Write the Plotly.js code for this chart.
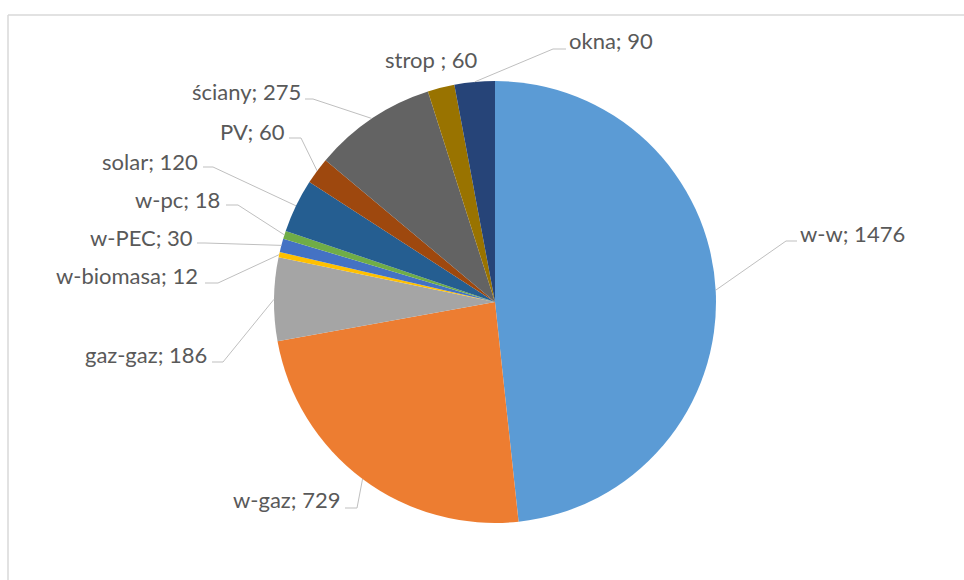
<!DOCTYPE html>
<html>
<head>
<meta charset="utf-8">
<script src="https://cdn.plot.ly/plotly-3.0.1.min.js"></script>
<style>html,body{margin:0;padding:0;background:#fff}#chart{width:964px;height:580px}</style>
</head>
<body>
<div id="chart"></div>
<script>
// ---- data ----
const categories = ["w-w","w-gaz","gaz-gaz","w-biomasa","w-PEC","w-pc","solar","PV","ściany","strop","okna"];
const values = [1476,729,186,12,30,18,120,60,275,60,90];
const labelTexts = ["w-w; 1476","w-gaz; 729","gaz-gaz; 186","w-biomasa; 12","w-PEC; 30","w-pc; 18","solar; 120","PV; 60","ściany; 275","strop ; 60","okna; 90"];

// ---- styles / layout constants (pixels) ----
const colors = ["#5B9BD5","#ED7D31","#A5A5A5","#FFC000","#4472C4","#70AD47","#255E91","#9E480E","#636363","#997300","#264478"];
const W = 964, H = 580;
const CX = 495, CY = 302, R = 221;
// label placement: [anchorX, baselineY, side, elbowX, elbowY, lineEndX] ; side 'l' = text to left of anchor
const labelPlace = [
  [799, 241, "r", 786, 241, 797],
  [341, 508, "l", 357, 508, 345],
  [208, 362, "l", 223, 362, 212],
  [199, 283, "l", 218, 283, 205],
  [194, 245, "l", 205, 243, 197],
  [221, 207, "l", 238, 205, 226],
  [199, 169, "l", 213, 167, 203],
  [286, 139, "l", 301, 138, 289],
  [302, 100, "l", 313, 99, 305],
  [431, 67, "c", null, null, null],
  [568, 48, "r", 553, 49, 566]
];
const FONT = {family: "Lato, 'Open Sans', sans-serif", size: 22, color: "#595959"};
const LINE = {color: "#BFBFBF", width: 1};

const px = x => x / W;
const py = y => 1 - y / H;

const total = values.reduce((a, b) => a + b, 0);
let cum = 0;
const shapes = [];
const annotations = [];
values.forEach((v, i) => {
  const mid = (cum + v / 2) / total;
  cum += v;
  const th = 2 * Math.PI * mid;
  const ex = CX + R * Math.sin(th), ey = CY - R * Math.cos(th);
  const p = labelPlace[i];
  if (p[3] !== null) {
    shapes.push({
      type: "path", xref: "paper", yref: "paper",
      path: `M ${px(ex)} ${py(ey)} L ${px(p[3])} ${py(p[4])} L ${px(p[5])} ${py(p[4])}`,
      line: LINE
    });
  }
  annotations.push({
    text: labelTexts[i], xref: "paper", yref: "paper",
    x: px(p[0]), y: py(p[1] - 8),
    xanchor: p[2] === "l" ? "right" : (p[2] === "r" ? "left" : "center"),
    yanchor: "middle", showarrow: false, font: FONT, borderpad: 0
  });
});

// chart frame (top and left edges)
shapes.push({type: "line", xref: "paper", yref: "paper", x0: px(8), y0: py(15), x1: 1, y1: py(15), line: {color: "#D9D9D9", width: 1.5}});
shapes.push({type: "line", xref: "paper", yref: "paper", x0: px(8), y0: py(15), x1: px(8), y1: 0, line: {color: "#D9D9D9", width: 1.5}});

const trace = {
  type: "pie",
  labels: categories,
  values: values,
  sort: false,
  direction: "clockwise",
  rotation: 0,
  textinfo: "none",
  hoverinfo: "label+value",
  marker: {colors: colors, line: {width: 0}},
  domain: {x: [px(CX - R), px(CX + R)], y: [py(CY + R), py(CY - R)]},
  showlegend: false
};

Plotly.newPlot("chart", [trace], {
  width: W, height: H,
  margin: {l: 0, r: 0, t: 0, b: 0},
  paper_bgcolor: "#ffffff",
  showlegend: false,
  shapes: shapes,
  annotations: annotations
}, {displayModeBar: false, staticPlot: true});
</script>
</body>
</html>
